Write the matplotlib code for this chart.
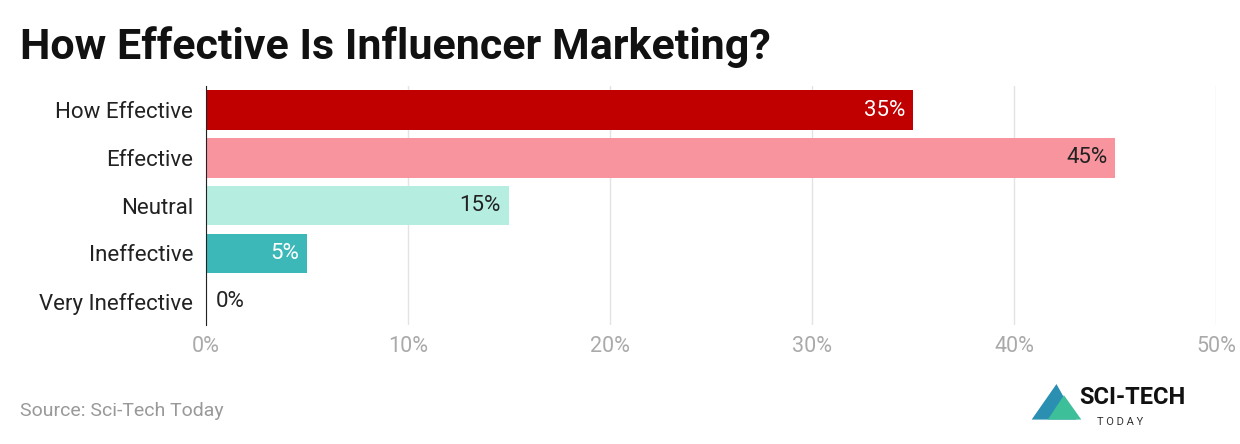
import matplotlib
matplotlib.use("Agg")
import matplotlib.pyplot as plt
from matplotlib.patches import Polygon

plt.rcParams["font.family"] = ["Roboto", "DejaVu Sans"]

categories = ["How Effective", "Effective", "Neutral", "Ineffective", "Very Ineffective"]
values = [35, 45, 15, 5, 0]
colors = ["#C00000", "#F7949E", "#B5EEE1", "#3DB8B8", "#3DB8B8"]
label_colors = ["white", "#222222", "#222222", "white", "#222222"]
ticks = [0, 10, 20, 30, 40, 50]

fig = plt.figure(figsize=(12.4, 4.44), dpi=100)
ax = fig.add_axes([0.166, 0.268, 0.815, 0.538])

ypos = list(range(len(categories)))
ax.barh(ypos, values, height=0.83, color=colors, zorder=2)
ax.set_ylim(len(categories) - 0.5, -0.5)
ax.set_xlim(0, 50)
ax.set_yticks(ypos)
ax.set_yticklabels(categories, fontsize=16, color="#222222")
ax.set_xticks(ticks)
ax.set_xticklabels([f"{t}%" for t in ticks], fontsize=15.5, color="#aaaaaa")
ax.tick_params(length=0, pad=8)
ax.tick_params(axis="y", pad=9)
ax.grid(axis="x", color="#e3e3e3", linewidth=1, zorder=0)
for s in ["top", "right", "bottom"]:
    ax.spines[s].set_visible(False)
ax.spines["left"].set_color("#222222")

for y, v, lc in zip(ypos, values, label_colors):
    if v > 0:
        ax.text(v - 0.4, y, f"{v}%", ha="right", va="center", fontsize=16, color=lc, zorder=3)
    else:
        ax.text(v + 0.5, y, f"{v}%", ha="left", va="center", fontsize=16, color=lc, zorder=3)

fig.text(0.016, 0.895, "How Effective Is Influencer Marketing?", fontsize=31,
         fontweight="bold", color="#111111", va="center")
fig.text(0.016, 0.075, "Source: Sci-Tech Today", fontsize=14, color="#999999", va="center")

# logo
fig.patches.append(Polygon([[0.832, 0.055], [0.852, 0.135], [0.868, 0.055]], closed=True,
                           transform=fig.transFigure, facecolor="#2a8fb0", edgecolor="none"))
fig.patches.append(Polygon([[0.845, 0.055], [0.858, 0.11], [0.872, 0.055]], closed=True,
                           transform=fig.transFigure, facecolor="#3dbf9a", edgecolor="none"))
fig.text(0.87, 0.105, "SCI-TECH", fontsize=17, fontweight="bold", color="#111111", va="center")
fig.text(0.885, 0.05, "T O D A Y", fontsize=8, color="#333333", va="center")

fig.savefig("out.png", dpi=100)
